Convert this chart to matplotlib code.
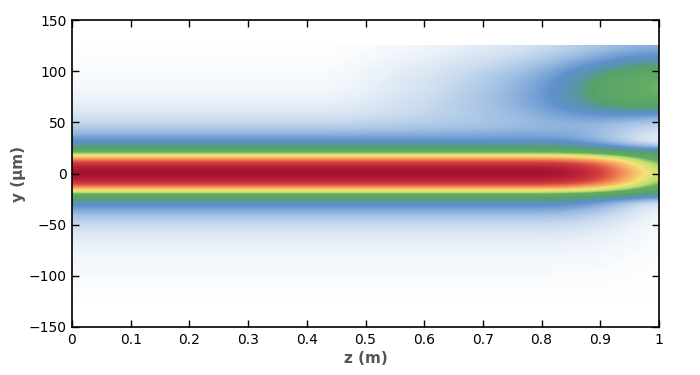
import numpy as np
import matplotlib
matplotlib.use("Agg")
import matplotlib.pyplot as plt
from matplotlib.colors import LinearSegmentedColormap

# ---- data ----
# propagation distance nodes (m)
z_nodes = [0.00, 0.05, 0.10, 0.15, 0.20, 0.25, 0.30, 0.35, 0.40, 0.45, 0.50,
           0.55, 0.60, 0.65, 0.70, 0.75, 0.80, 0.85, 0.90, 0.95, 1.00]
# transverse offsets |y| (um) for the main beam profiles
y_offsets = [0, 5, 10, 15, 20, 25, 30, 35, 40, 45, 50, 55, 60, 65, 70, 75,
             80, 85, 90, 95, 100, 105, 110, 115, 120, 125]
# main-beam level (colour index) vs |y| in the straight part
main_profile = [1.00, 0.97, 0.89, 0.72, 0.55, 0.46, 0.39, 0.32, 0.26, 0.21,
                0.17, 0.14, 0.11, 0.09, 0.075, 0.06, 0.05, 0.04, 0.035, 0.03,
                0.025, 0.02, 0.015, 0.01, 0.008, 0.005]
# main-beam level vs |y| at the exit (z = 1)
exit_profile = [0.58, 0.57, 0.54, 0.50, 0.45, 0.32, 0.12, 0.07, 0.05, 0.04,
                0.03, 0.025, 0.02, 0.02, 0.015, 0.015, 0.012, 0.01, 0.01,
                0.008, 0.008, 0.006, 0.006, 0.005, 0.005, 0.005]
# how far the main beam has turned into its exit shape, per z node
exit_weight = [0, 0, 0, 0, 0, 0, 0, 0, 0, 0, 0,
               0, 0, 0, 0, 0, 0, 0.06, 0.28, 0.65, 1.00]
# side (coupled) beam near y = +88 um
side_y = [40, 45, 50, 55, 60, 65, 70, 75, 80, 85, 90, 95, 100, 105, 110,
          115, 120, 125]
side_profile = [0.12, 0.20, 0.32, 0.48, 0.64, 0.78, 0.88, 0.95, 0.99, 1.00,
                1.00, 0.97, 0.92, 0.85, 0.77, 0.68, 0.60, 0.52]
side_amp = [0, 0, 0, 0, 0, 0, 0, 0, 0, 0, 0.03,
            0.06, 0.09, 0.13, 0.17, 0.22, 0.28, 0.36, 0.44, 0.51, 0.54]

x_ticks = [0, 0.1, 0.2, 0.3, 0.4, 0.5, 0.6, 0.7, 0.8, 0.9, 1]
x_labels = ["0", "0.1", "0.2", "0.3", "0.4", "0.5", "0.6", "0.7", "0.8", "0.9", "1"]
y_ticks = [-150, -100, -50, 0, 50, 100, 150]

# ---- assemble node grid (rows: y from -125 to 125, cols: z) ----
off = np.array(y_offsets)
y_full = np.concatenate([-off[::-1], off[1:]])
pm = np.array(main_profile)
pe = np.array(exit_profile)
pm_full = np.concatenate([pm[::-1], pm[1:]])
pe_full = np.concatenate([pe[::-1], pe[1:]])
side_full = np.zeros_like(y_full, dtype=float)
for yy, v in zip(side_y, side_profile):
    side_full[y_full == yy] = v
w = np.array(exit_weight)
b = np.array(side_amp)
grid = (pm_full[:, None] * (1 - w[None, :]) + pe_full[:, None] * w[None, :]
        + side_full[:, None] * b[None, :])

cmap = LinearSegmentedColormap.from_list("beam", [
    (0.00, (1.0, 1.0, 1.0)),
    (0.05, (240/255, 245/255, 251/255)),
    (0.15, (205/255, 221/255, 239/255)),
    (0.25, (155/255, 188/255, 226/255)),
    (0.35, (95/255, 145/255, 205/255)),
    (0.41, (88/255, 150/255, 165/255)),
    (0.45, (85/255, 162/255, 105/255)),
    (0.54, (100/255, 172/255, 100/255)),
    (0.585, (190/255, 222/255, 110/255)),
    (0.65, (245/255, 228/255, 120/255)),
    (0.73, (250/255, 165/255, 95/255)),
    (0.86, (214/255, 64/255, 64/255)),
    (1.00, (163/255, 14/255, 50/255)),
])

fig = plt.figure(figsize=(7.0, 3.75), dpi=100)
ax = fig.add_axes([72/700, 1 - 327/375, (659 - 72)/700, (327 - 20)/375])
dz = z_nodes[1] - z_nodes[0]
ax.imshow(grid, origin="lower", aspect="auto", cmap=cmap, vmin=0, vmax=1,
          interpolation="bicubic", interpolation_stage="data",
          extent=[z_nodes[0] - dz/2, z_nodes[-1] + dz/2,
                  y_full[0], y_full[-1]])
ax.set_xlim(0, 1)
ax.set_ylim(-150, 150)
ax.set_xticks(x_ticks)
ax.set_xticklabels(x_labels)
ax.set_yticks(y_ticks)
ax.tick_params(direction="in", top=True, right=True, length=5, width=1,
               labelsize=10, colors="black", pad=4)
for s in ax.spines.values():
    s.set_linewidth(1.2)
ax.set_xlabel("z (m)", fontsize=11, fontweight="bold", color="#555555", labelpad=3)
ax.set_ylabel("y (µm)", fontsize=11, fontweight="bold", color="#555555", labelpad=2)
fig.savefig("out.png", dpi=100)
